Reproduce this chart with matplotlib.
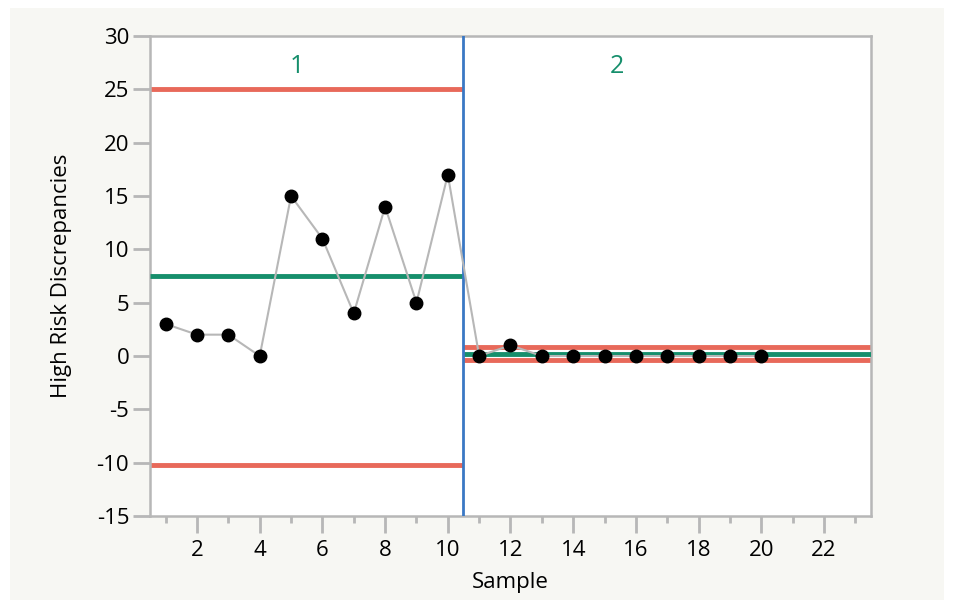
import matplotlib.pyplot as plt
from matplotlib.patches import Rectangle
from matplotlib.ticker import MultipleLocator

plt.rcParams['font.family'] = ['Open Sans', 'DejaVu Sans']
plt.rcParams['axes.unicode_minus'] = False

# data
samples = list(range(1, 21))
values = [3, 2, 2, 0, 15, 11, 4, 14, 5, 17, 0, 1, 0, 0, 0, 0, 0, 0, 0, 0]

# phase limits
phases = ["1", "2"]
phase_start = [0.5, 10.5]
phase_end = [10.5, 23.5]
phase_lcl = [-10.2, -0.4]
phase_mean = [7.5, 0.2]
phase_ucl = [25.0, 0.8]
phase_label_x = [5.2, 15.4]

red = "#e8695a"
green = "#168f6c"
blue = "#3a78c4"
grey = "#b7b7b7"

fig = plt.figure(figsize=(9.54, 6.08), dpi=100)
fig.patch.set_facecolor("white")
fig.add_artist(Rectangle((10 / 954, 8 / 608), 934 / 954, 592 / 608,
                         transform=fig.transFigure, facecolor="#f7f7f3",
                         edgecolor="none", zorder=-10))

ax = fig.add_axes([150 / 954, 1 - 516 / 608, 721 / 954, 480 / 608])
ax.set_facecolor("white")

for i in range(len(phases)):
    ax.hlines(phase_ucl[i], phase_start[i], phase_end[i], color=red, lw=3.5, zorder=2)
    ax.hlines(phase_lcl[i], phase_start[i], phase_end[i], color=red, lw=3.5, zorder=2)
    ax.hlines(phase_mean[i], phase_start[i], phase_end[i], color=green, lw=3.5, zorder=3)
    ax.text(phase_label_x[i], 27.1, phases[i], color=green, fontsize=18,
            ha="center", va="center")

ax.axvline(10.5, color=blue, lw=2, zorder=4)

ax.plot(samples, values, color=grey, lw=1.5, zorder=5)
ax.plot(samples, values, "o", color="black", ms=9, zorder=6)

ax.set_xlim(0.5, 23.5)
ax.set_ylim(-15, 30)
ax.xaxis.set_major_locator(MultipleLocator(2))
ax.xaxis.set_minor_locator(MultipleLocator(1))
ax.yaxis.set_major_locator(MultipleLocator(5))

for s in ax.spines.values():
    s.set_color(grey)
    s.set_linewidth(1.8)

ax.tick_params(axis="both", which="major", length=12, width=2, color=grey,
               labelsize=16, pad=3)
ax.tick_params(axis="x", which="minor", length=5, width=2, color=grey)
ax.tick_params(axis="x", which="major", pad=5)

ax.set_xlabel("Sample", fontsize=16, labelpad=8)
ax.set_ylabel("High Risk Discrepancies", fontsize=16, labelpad=18)

fig.savefig("out.png", dpi=100, facecolor=fig.get_facecolor())
